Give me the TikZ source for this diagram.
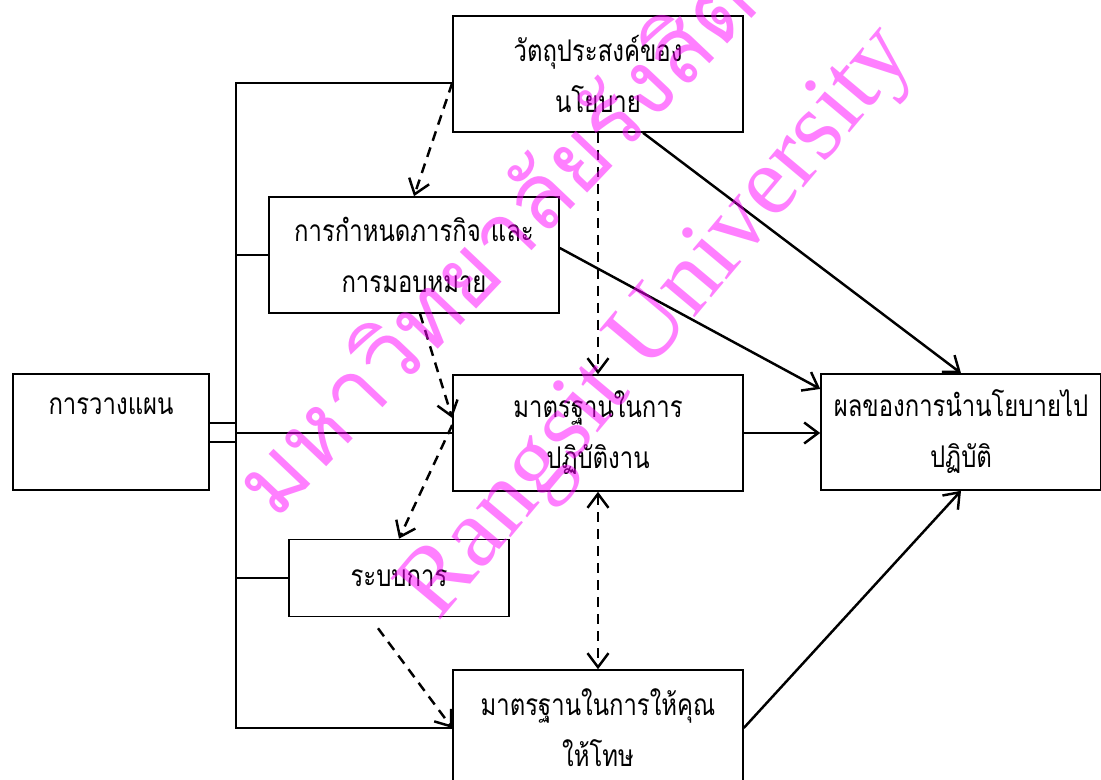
\documentclass[tikz,border=0pt]{standalone}
\usepackage{fontspec}
\usepackage{xcolor}
\usepackage{tikz}
\newfontfamily\thaifont[Script=Thai,FakeStretch=0.8]{Loma}
\newfontfamily\markthai[Script=Thai]{Loma}
\newfontfamily\markfont{Liberation Serif}
\definecolor{markpink}{RGB}{255,0,255}
\usetikzlibrary{calc, positioning, arrows.meta}

\begin{document}
\begin{tikzpicture}[x=0.1mm,y=-0.1mm,
                    >={Straight Barb[length=1.4mm,width=2.1mm]},
                    main node/.style={rectangle,draw,line width=0.45pt,
                      minimum width=29mm,minimum height=11.6mm,
                      text width=28mm,align=center,inner sep=0.5mm,
                      font=\thaifont\fontsize{8.5}{14.5}\selectfont},
                    link/.style={line width=0.7pt},
                    dash link/.style={line width=0.7pt,dash pattern=on 1mm off 0.7mm},
                    mark text/.style={text=markpink,text opacity=0.5}]

  \useasboundingbox (0,0) rectangle (1101,780);

  \node[main node,minimum width=19.6mm,text width=18.6mm] (1) at (111,432) {การวางแผน\\ \mbox{}};
  \node[main node] (2) at (598,74)  {วัตถุประสงค์ของ\\นโยบาย};
  \node[main node] (3) at (414,255) {การกำหนดภารกิจ และ\\การมอบหมาย};
  \node[main node] (4) at (598,433) {มาตรฐานในการ\\ปฏิบัติงาน};
  \node[main node,minimum width=22mm,minimum height=7.7mm,text width=21mm] (5) at (399,578) {ระบบการ};
  \node[main node] (6) at (598,728) {มาตรฐานในการให้คุณ\\ให้โทษ};
  \node[main node,minimum width=28mm,text width=27mm] (7) at (961,432) {ผลของการนำนโยบายไป\\ปฏิบัติ};

  \coordinate (top) at (236,83);
  \coordinate (s1) at ($(5.south)+(-21,11)$);

  % the line on the left that ties the boxes together
  \draw[link] (2.west |- top) -- (top) -- (top |- 6.west) -- (6.west);
  \draw[link] ($(1.east)+(0,-9)$) -- ($(top |- 1.east)+(0,-9)$);
  \draw[link] ($(1.east)+(0,10)$) -- ($(top |- 1.east)+(0,10)$);
  \draw[link] (top |- 3.west) -- (3.west);
  \draw[link] (top |- 4.west) -- (4.west);
  \draw[link] (top |- 5.west) -- (5.west);

  % dashed links
  \draw[dash link,->] (2.west |- top) -- (3.north);
  \draw[dash link,->] ($(3.south)+(6,0)$) -- ($(4.west)+(0,-15)$);
  \draw[dash link,->] ($(4.west)+(0,-8)$) -- (5.north);
  \draw[dash link,->] (s1) -- (6.west);
  \draw[dash link,->] (2.south) -- (4.north);
  \draw[dash link,<->] (4.south) -- (6.north);

  % links to the result
  \draw[link,->] ($(2.south)+(45,0)$) -- (7.north);
  \draw[link,->] ($(3.east)+(0,-7)$) -- (7.163);
  \draw[link,->] (4.east) -- (4.east -| 7.west);
  \draw[link,->] (6.east) -- (7.south);

  % watermark
  \node[mark text,rotate=46.5,font=\markthai\fontsize{26}{30}\selectfont] (m1) at (492,240) {มหาวิทยาลัยรังสิต};
  \node[mark text,rotate=50,font=\markfont\fontsize{28}{32}\selectfont] (m2) at (660,325) {Rangsit University};

\end{tikzpicture}
\end{document}
